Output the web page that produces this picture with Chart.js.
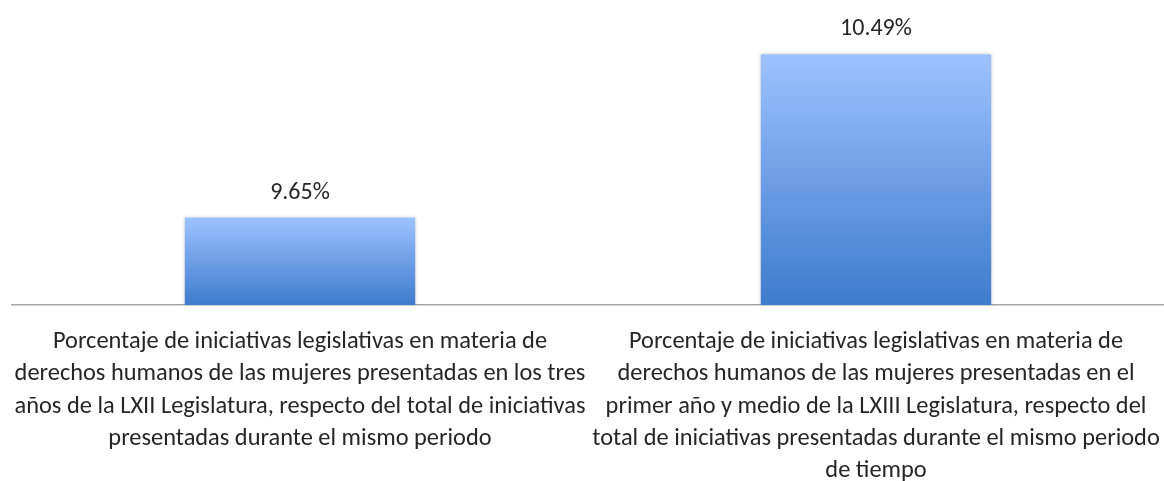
<!DOCTYPE html>
<html lang="es">
<head>
<meta charset="UTF-8">
<title>Iniciativas legislativas</title>
<script src="https://cdn.jsdelivr.net/npm/chart.js"></script>
<style>
  html, body { margin: 0; padding: 0; background: #fff; }
  #wrap { width: 1164px; height: 481px; position: relative; }
</style>
</head>
<body>
<div id="wrap"><canvas id="grafico"></canvas></div>
<script>
  // categorias (ya partidas en lineas como en la imagen)
  var categorias = [
    ['Porcentaje de iniciativas legislativas en materia de',
     'derechos humanos de las mujeres presentadas en los tres',
     'años de la LXII Legislatura, respecto del total de iniciativas',
     'presentadas durante el mismo periodo'],
    ['Porcentaje de iniciativas legislativas en materia de',
     'derechos humanos de las mujeres presentadas en el',
     'primer año y medio de la LXIII Legislatura, respecto del',
     'total de iniciativas presentadas durante el mismo periodo',
     'de tiempo']
  ]
  var porcentajes = [9.65, 10.49]
  var ejeMin = 9.2
  var ejeMax = 10.6

  var familia = "Carlito, 'Liberation Sans Narrow', 'DejaVu Sans Condensed', 'Open Sans', sans-serif"

  // tamaño de letra para que un texto mida el ancho que tiene en la imagen
  function ajustar(texto, ancho) {
    var c = document.createElement('canvas').getContext('2d')
    c.font = '20px ' + familia
    var w = c.measureText(texto).width
    return Math.round(20 * ancho / w * 10) / 10
  }
  var tam = ajustar(categorias[0][0], 495)
  var tamValor = ajustar('10.49%', 72)

  function degradado(context) {
    var chart = context.chart
    var area = chart.chartArea
    if (!area || context.dataIndex === undefined) return '#5b8fdc'
    var y = chart.scales.y
    var top = y.getPixelForValue(context.raw)
    var base = y.getPixelForValue(ejeMin)
    var g = chart.ctx.createLinearGradient(0, top, 0, base)
    g.addColorStop(0, '#9dc3ff')
    g.addColorStop(0.5, '#6e9ee6')
    g.addColorStop(1, '#3d7ccc')
    return g
  }

  // sombra suave de las barras
  var sombra = {
    id: 'sombra',
    beforeDatasetsDraw: function (chart) {
      var ctx = chart.ctx
      ctx.save()
      ctx.shadowColor = 'rgba(0,0,0,0.22)'
      ctx.shadowBlur = 4
      ctx.shadowOffsetX = 0
      ctx.shadowOffsetY = 0
    },
    afterDatasetsDraw: function (chart) {
      chart.ctx.restore()
    }
  }

  // valores encima de las barras y textos de las categorias
  var textos = {
    id: 'textos',
    afterDraw: function (chart) {
      var ctx = chart.ctx
      var meta = chart.getDatasetMeta(0)
      var x = chart.scales.x
      ctx.save()
      ctx.fillStyle = '#262626'
      ctx.textAlign = 'center'
      ctx.textBaseline = 'alphabetic'

      ctx.font = tamValor + 'px ' + familia
      meta.data.forEach(function (bar, i) {
        ctx.save()
        ctx.translate(bar.x, bar.y - 19)
        ctx.scale(1, 1.05)
        ctx.fillText(porcentajes[i].toFixed(2) + '%', 0, 0)
        ctx.restore()
      })

      ctx.font = tam + 'px ' + familia
      var base = chart.chartArea.bottom + 43
      categorias.forEach(function (lineas, i) {
        var cx = x.getPixelForTick(i)
        lineas.forEach(function (linea, j) {
          ctx.fillText(linea, cx, base + j * 32.3)
        })
      })
      ctx.restore()
    }
  }

  var ctx = document.getElementById('grafico')

  var meuGrafico = new Chart(ctx, {
    type: 'bar',
    data: {
      labels: categorias,
      datasets: [{
        data: porcentajes,
        backgroundColor: degradado,
        borderWidth: 0,
        barPercentage: 0.4,
        categoryPercentage: 1
      }]
    },
    options: {
      responsive: true,
      maintainAspectRatio: false,
      animation: false,
      layout: { padding: { top: 33, left: 12, right: 0, bottom: 0 } },
      plugins: {
        legend: { display: false },
        tooltip: { enabled: false }
      },
      scales: {
        x: {
          grid: { display: false, drawTicks: false },
          border: { display: true, color: '#a6a6a6', width: 1.5 },
          ticks: { display: false },
          afterFit: function (scale) { scale.height = 176 }
        },
        y: {
          display: false,
          min: ejeMin,
          max: ejeMax
        }
      }
    },
    plugins: [sombra, textos]
  });
</script>
</body>
</html>
